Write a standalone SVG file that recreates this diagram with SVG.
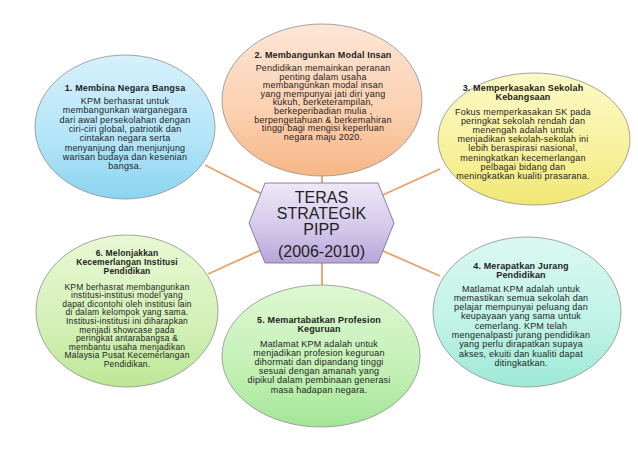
<svg xmlns="http://www.w3.org/2000/svg" width="638" height="452" viewBox="0 0 638 452">
<defs>
<linearGradient id="g1" x1="0" y1="0" x2="0" y2="1"><stop offset="0" stop-color="#d6f1fc"/><stop offset="0.6" stop-color="#b2e4f8"/><stop offset="1" stop-color="#8ad4f1"/></linearGradient>
<linearGradient id="g2" x1="0" y1="0" x2="0" y2="1"><stop offset="0" stop-color="#fde6d6"/><stop offset="0.6" stop-color="#fbcfae"/><stop offset="1" stop-color="#f7b685"/></linearGradient>
<linearGradient id="g3" x1="0" y1="0" x2="0" y2="1"><stop offset="0" stop-color="#fcf9c6"/><stop offset="0.6" stop-color="#f8f19c"/><stop offset="1" stop-color="#f1e774"/></linearGradient>
<linearGradient id="g4" x1="0" y1="0" x2="0" y2="1"><stop offset="0" stop-color="#dbf8f1"/><stop offset="0.6" stop-color="#bff2e5"/><stop offset="1" stop-color="#9de9d6"/></linearGradient>
<linearGradient id="g5" x1="0" y1="0" x2="0" y2="1"><stop offset="0" stop-color="#def8d2"/><stop offset="0.6" stop-color="#c3f0b5"/><stop offset="1" stop-color="#a3e697"/></linearGradient>
<linearGradient id="g6" x1="0" y1="0" x2="0" y2="1"><stop offset="0" stop-color="#e8f8d4"/><stop offset="0.6" stop-color="#d3f0b6"/><stop offset="1" stop-color="#bce796"/></linearGradient>
<linearGradient id="gh" x1="0" y1="0" x2="0" y2="1"><stop offset="0" stop-color="#eee8f7"/><stop offset="0.6" stop-color="#d2c6ea"/><stop offset="1" stop-color="#b7a4d8"/></linearGradient>
</defs>
<style>
.conn line{stroke:#e9a06b;stroke-width:1.8;fill:none}
.el{stroke:#8e8e8e;stroke-width:0.8}
.hex{stroke:#7f7296;stroke-width:0.9}
text{font-family:"Liberation Sans",Arial,sans-serif;fill:#1e1e1e;text-anchor:middle}
.t{font-weight:bold;font-size:9px;letter-spacing:0.15px}
.b{font-size:9px;letter-spacing:0.2px}
.s .t,.s .b{font-size:8.5px}
.c{font-size:16px;fill:#222}
</style>
<rect width="638" height="452" fill="#ffffff"/>
<g id="connectors" class="conn">
<line x1="205" y1="165" x2="270" y2="198"/>
<line x1="208" y1="274" x2="270" y2="246"/>
<line x1="440" y1="169" x2="374" y2="199"/>
<line x1="374" y1="247" x2="440" y2="276"/>
<line x1="322" y1="168" x2="322" y2="186"/>
<line x1="322" y1="260" x2="322" y2="290"/>
</g>
<g id="node1">
<ellipse class="el" cx="125" cy="127" rx="90" ry="72" fill="url(#g1)"/>
<text class="t" x="125" y="91">1. Membina Negara Bangsa</text>
<text class="b" x="125" y="104">KPM berhasrat untuk</text>
<text class="b" x="125" y="113.3">membangunkan warganegara</text>
<text class="b" x="125" y="122.6">dari awal persekolahan dengan</text>
<text class="b" x="125" y="131.9">ciri-ciri global, patriotik dan</text>
<text class="b" x="125" y="141.2">cintakan negara serta</text>
<text class="b" x="125" y="150.5">menyanjung dan menjunjung</text>
<text class="b" x="125" y="159.8">warisan budaya dan kesenian</text>
<text class="b" x="125" y="169.1">bangsa.</text>
</g>
<g id="node2">
<ellipse class="el" cx="322" cy="100" rx="100" ry="76" fill="url(#g2)"/>
<text class="t" x="323" y="58">2. Membangunkan Modal Insan</text>
<text class="b" x="323" y="71">Pendidikan memainkan peranan</text>
<text class="b" x="323" y="79.6">penting dalam usaha</text>
<text class="b" x="323" y="88.2">membangunkan modal insan</text>
<text class="b" x="323" y="96.8">yang mempunyai jati diri yang</text>
<text class="b" x="323" y="105.4">kukuh, berketerampilan,</text>
<text class="b" x="323" y="114">berkeperibadian mulia ,</text>
<text class="b" x="323" y="122.6">berpengetahuan &amp; berkemahiran</text>
<text class="b" x="323" y="131.2">tinggi bagi mengisi keperluan</text>
<text class="b" x="323" y="139.8">negara maju 2020.</text>
</g>
<g id="node3">
<ellipse class="el" cx="534" cy="139" rx="96" ry="66" fill="url(#g3)"/>
<text class="t" x="523" y="90.5">3. Memperkasakan Sekolah</text>
<text class="t" x="523" y="99.7">Kebangsaan</text>
<text class="b" x="523" y="114.5">Fokus memperkasakan SK pada</text>
<text class="b" x="523" y="123.7">peringkat sekolah rendah dan</text>
<text class="b" x="523" y="132.9">menengah adalah untuk</text>
<text class="b" x="523" y="142.1">menjadikan sekolah-sekolah ini</text>
<text class="b" x="523" y="151.3">lebih beraspirasi nasional,</text>
<text class="b" x="523" y="160.5">meningkatkan kecemerlangan</text>
<text class="b" x="523" y="169.7">pelbagai bidang dan</text>
<text class="b" x="523" y="178.9">meningkatkan kualiti prasarana.</text>
</g>
<g id="node4">
<ellipse class="el" cx="527" cy="312" rx="94" ry="75" fill="url(#g4)"/>
<text class="t" x="521" y="268.5">4. Merapatkan Jurang</text>
<text class="t" x="521" y="277.7">Pendidikan</text>
<text class="b" x="521" y="291.5">Matlamat KPM adalah untuk</text>
<text class="b" x="521" y="300.8">memastikan semua sekolah dan</text>
<text class="b" x="521" y="310.1">pelajar mempunyai peluang dan</text>
<text class="b" x="521" y="319.4">keupayaan yang sama untuk</text>
<text class="b" x="521" y="328.7">cemerlang. KPM telah</text>
<text class="b" x="521" y="338">mengenalpasti jurang pendidikan</text>
<text class="b" x="521" y="347.3">yang perlu dirapatkan supaya</text>
<text class="b" x="521" y="356.6">akses, ekuiti dan kualiti dapat</text>
<text class="b" x="521" y="365.9">ditingkatkan.</text>
</g>
<g id="node5">
<ellipse class="el" cx="321" cy="356" rx="99" ry="71" fill="url(#g5)"/>
<text class="t" x="319" y="323">5. Memartabatkan Profesion</text>
<text class="t" x="319" y="332.3">Keguruan</text>
<text class="b" x="319" y="346.5">Matlamat KPM adalah untuk</text>
<text class="b" x="319" y="355.7">menjadikan profesion keguruan</text>
<text class="b" x="319" y="364.9">dihormati dan dipandang tinggi</text>
<text class="b" x="319" y="374.1">sesuai dengan amanah yang</text>
<text class="b" x="319" y="383.3">dipikul dalam pembinaan generasi</text>
<text class="b" x="319" y="392.5">masa hadapan negara.</text>
</g>
<g id="node6" class="s">
<ellipse class="el" cx="127" cy="311" rx="91" ry="76" fill="url(#g6)"/>
<text class="t" x="127" y="256">6. Melonjakkan</text>
<text class="t" x="127" y="265">Kecemerlangan Institusi</text>
<text class="t" x="127" y="274">Pendidikan</text>
<text class="b" x="127" y="289.5">KPM berhasrat membangunkan</text>
<text class="b" x="127" y="298.1">institusi-institusi model yang</text>
<text class="b" x="127" y="306.7">dapat dicontohi oleh institusi lain</text>
<text class="b" x="127" y="315.3">di dalam kelompok yang sama.</text>
<text class="b" x="127" y="323.9">Institusi-institusi ini diharapkan</text>
<text class="b" x="127" y="332.5">menjadi showcase pada</text>
<text class="b" x="127" y="341.1">peringkat antarabangsa &amp;</text>
<text class="b" x="127" y="349.7">membantu usaha menjadikan</text>
<text class="b" x="127" y="358.3">Malaysia Pusat Kecemerlangan</text>
<text class="b" x="127" y="366.9">Pendidikan.</text>
</g>
<g id="center">
<polygon class="hex" points="249,223 265,183 378,183 394,223 378,263 265,263" fill="url(#gh)"/>
<text class="c" x="321.5" y="203">TERAS</text>
<text class="c" x="321.5" y="219">STRATEGIK</text>
<text class="c" x="321.5" y="235">PIPP</text>
<text class="c" x="321.5" y="257">(2006-2010)</text>
</g>
</svg>
